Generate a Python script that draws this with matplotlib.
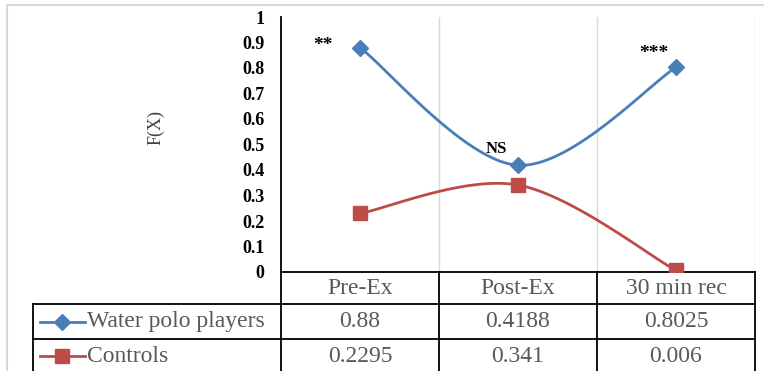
import numpy as np
import matplotlib.pyplot as plt
from matplotlib.lines import Line2D
from matplotlib.transforms import blended_transform_factory

# Datos
categorias = ["Pre-Ex", "Post-Ex", "30 min rec"]
waterpolo = [0.88, 0.4188, 0.8025]
controles = [0.2295, 0.341, 0.006]
etiquetas_wp = ["0.88", "0.4188", "0.8025"]
etiquetas_ctrl = ["0.2295", "0.341", "0.006"]
signif = ["**", "NS", "***"]

AZUL = "#4A7EBB"
ROJO = "#BE4B48"
GRIS_TXT = "#595959"
SERIF = "Liberation Serif"


def suavizar(y, n=60):
    # curva suavizada estilo Excel (Bezier con tangentes de Catmull-Rom)
    x = np.arange(len(y), dtype=float)
    y = np.asarray(y, dtype=float)
    px, py = np.r_[x[0], x, x[-1]], np.r_[y[0], y, y[-1]]
    xs, ys = [], []
    t = np.linspace(0, 1, n)
    for i in range(len(x) - 1):
        p0 = np.array([px[i + 1], py[i + 1]])
        p3 = np.array([px[i + 2], py[i + 2]])
        c1 = p0 + (p3 - np.array([px[i], py[i]])) / 6
        c2 = p3 - (np.array([px[i + 3], py[i + 3]]) - p0) / 6
        b = ((1 - t) ** 3)[:, None] * p0 + (3 * (1 - t) ** 2 * t)[:, None] * c1 \
            + (3 * (1 - t) * t ** 2)[:, None] * c2 + (t ** 3)[:, None] * p3
        xs.append(b[:, 0])
        ys.append(b[:, 1])
    return np.concatenate(xs), np.concatenate(ys)


fig = plt.figure(figsize=(7.64, 3.71), dpi=100)
ax = fig.add_axes([281 / 764, 99 / 371, 474 / 764, 255 / 371])

# Curvas
xw, yw = suavizar(waterpolo)
xc, yc = suavizar(controles)
ax.plot(xw, yw, color=AZUL, lw=2.0, zorder=3)
ax.plot(xc, yc, color=ROJO, lw=2.0, zorder=3)
x = np.arange(len(categorias))
ax.plot(x, waterpolo, ls="none", marker="D", ms=8, color=AZUL, zorder=4)
ax.plot(x, controles, ls="none", marker="s", ms=9.5, color=ROJO, zorder=4)

# Significancia
ax.text(x[0] - 0.17, waterpolo[0] + 0.01, signif[0], ha="right", va="center",
        fontsize=14, fontweight="bold", family=SERIF)
ax.text(x[1] - 0.14, waterpolo[1] + 0.065, signif[1], ha="center", va="center",
        fontsize=12, fontweight="bold", family=SERIF)
ax.text(x[2] - 0.14, waterpolo[2] + 0.055, signif[2], ha="center", va="center",
        fontsize=14, fontweight="bold", family=SERIF)

ax.set_xlim(-0.5, 2.5)
ax.set_ylim(0, 1)
ax.set_yticks(np.arange(0, 1.01, 0.1))
ax.set_yticklabels(["0"] + [f"{v:.1f}" for v in np.arange(0.1, 0.95, 0.1)] + ["1"],
                   fontsize=13, fontweight="bold", family=SERIF)
ax.tick_params(axis="y", length=0, pad=12)
ax.set_xticks([])
for s in ["top", "right"]:
    ax.spines[s].set_visible(False)
ax.spines["left"].set_linewidth(1.3)
ax.spines["bottom"].set_linewidth(1.3)
for xv in [0.5, 1.5, 2.5]:
    ax.axvline(xv, color="#D9D9D9", lw=1, zorder=1)
ax.set_ylabel("F(X)", fontsize=13, family=SERIF, color="#404040")
ax.yaxis.set_label_coords(-0.245, 0.565)

# Tabla de datos bajo el eje
tr = ax.get_xaxis_transform()
trf = blended_transform_factory(fig.transFigure, ax.transAxes)
filas = [0.0, -32 / 255, -67 / 255, -101 / 255]
izq = 33 / 764
kw = dict(color="black", lw=1.3, clip_on=False)
for yv in filas[1:3]:
    fig.add_artist(Line2D([izq, 755 / 764], [yv, yv], transform=trf, **kw))
fig.add_artist(Line2D([izq, izq], [filas[1], filas[3]], transform=trf, **kw))
for xv in [0.5, 1.5, 2.5]:
    fig.add_artist(Line2D([xv, xv], [0, filas[3]], transform=tr, **kw))
fig.add_artist(Line2D([281 / 764, 281 / 764], [0, filas[3]], transform=trf, **kw))

tkw = dict(ha="center", va="center", fontsize=17, family=SERIF, color=GRIS_TXT)
for i, cat in enumerate(categorias):
    ax.text(i, (filas[0] + filas[1]) / 2, cat, transform=tr, **tkw)
    ax.text(i, (filas[1] + filas[2]) / 2, etiquetas_wp[i], transform=tr, **tkw)
    ax.text(i, (filas[2] + filas[3]) / 2, etiquetas_ctrl[i], transform=tr, **tkw)

# Leyenda dentro de la tabla
ym1 = (filas[1] + filas[2]) / 2
ym2 = (filas[2] + filas[3]) / 2
for ym, color, mk, ms in [(ym1, AZUL, "D", 8), (ym2, ROJO, "s", 9.5)]:
    fig.add_artist(Line2D([40 / 764, 85 / 764], [ym, ym], transform=trf,
                          color=color, lw=2.0))
    fig.add_artist(Line2D([62 / 764], [ym], transform=trf, color=color,
                          marker=mk, ms=ms))
lkw = dict(ha="left", va="center", fontsize=17, family=SERIF, color=GRIS_TXT)
fig.text(87 / 764, 0, "Water polo players", transform=trf, **lkw).set_y(ym1)
fig.text(87 / 764, 0, "Controls", transform=trf, **lkw).set_y(ym2)

# Borde del gráfico
fig.add_artist(Line2D([7 / 764, 7 / 764, 1], [0, 1 - 5 / 371, 1 - 5 / 371],
                      transform=fig.transFigure, color="#D9D9D9", lw=1.5))

fig.savefig("out.png", dpi=100)
